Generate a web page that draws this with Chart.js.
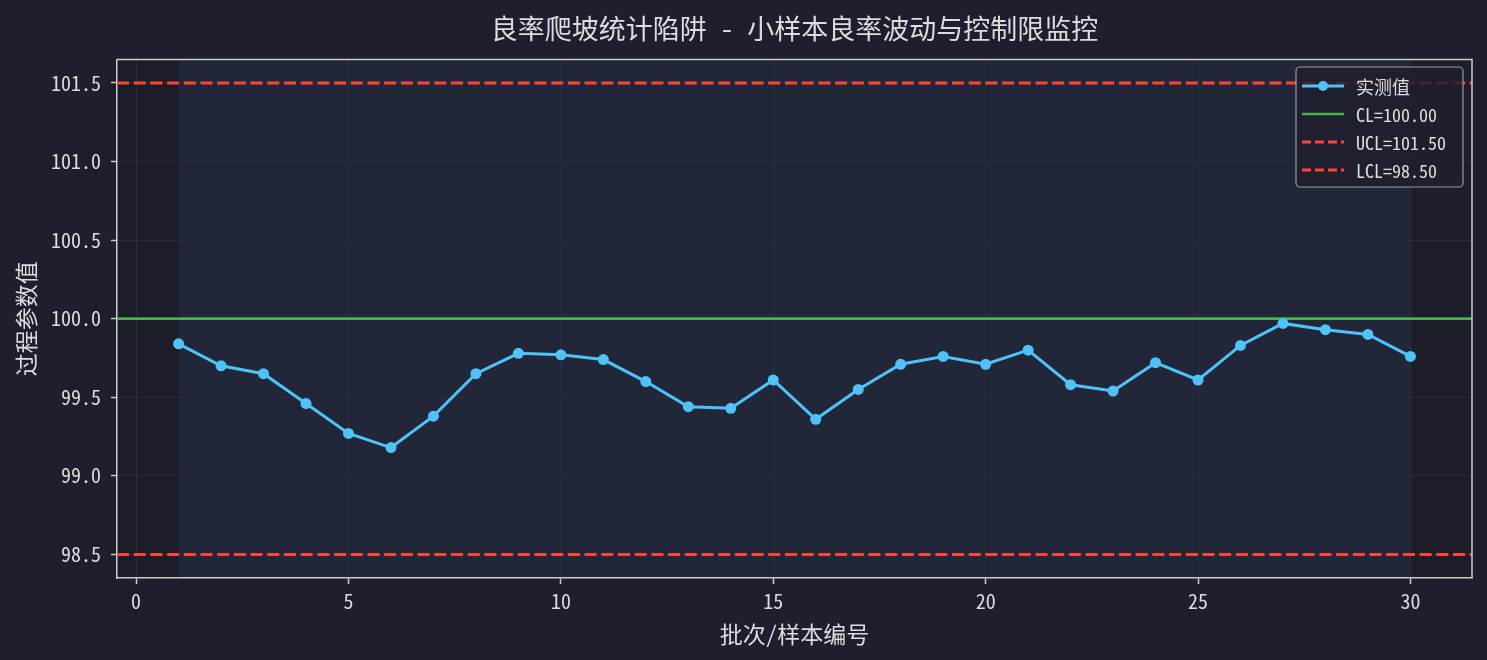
<!DOCTYPE html>
<html>
<head>
<meta charset="utf-8">
<script src="https://cdn.jsdelivr.net/npm/chart.js@4.4.0/dist/chart.umd.min.js"></script>
<style>
    html, body { margin: 0; padding: 0; background: #1f1e2e; }
    canvas { display: block; }
</style>
</head>
<body>
<canvas id="chart" width="1487" height="660"></canvas>
<script>
// ---- data ----
var batches = [1, 2, 3, 4, 5, 6, 7, 8, 9, 10, 11, 12, 13, 14, 15,
               16, 17, 18, 19, 20, 21, 22, 23, 24, 25, 26, 27, 28, 29, 30];
var measured = [99.84, 99.70, 99.65, 99.46, 99.27, 99.18, 99.38, 99.65, 99.78, 99.77,
                99.74, 99.60, 99.44, 99.43, 99.61, 99.36, 99.55, 99.71, 99.76, 99.71,
                99.80, 99.58, 99.54, 99.72, 99.61, 99.83, 99.97, 99.93, 99.90, 99.76];
var CL = 100.0;
var UCL = 101.5;
var LCL = 98.5;
var xTicks = [0, 5, 10, 15, 20, 25, 30];
var yTicks = [98.5, 99.0, 99.5, 100.0, 100.5, 101.0, 101.5];
var xLimits = [-0.45, 31.45];
var yLimits = [98.35, 101.65];
var spanRange = [1, 30];

var TITLE = '良率爬坡统计陷阱 - 小样本良率波动与控制限监控';
var X_LABEL = '批次/样本编号';
var Y_LABEL = '过程参数值';

var BLUE = '#4fc3f7', GREEN = '#4caf50', RED = '#ff4436';
var TEXT = '#dddddd', SPINE = '#cccccc', GRID = '#2c2c3c';
var DASH = [12, 4.7];
var FONT = "'Noto Sans Mono CJK SC', 'DejaVu Sans Mono', 'Noto Sans CJK SC', monospace";

Chart.defaults.font.family = FONT;
Chart.defaults.color = TEXT;

function hline(v) {
    return [{ x: xLimits[0], y: v }, { x: xLimits[1], y: v }];
}

var legendItems = [
    { label: '实测值', color: BLUE, dash: [], width: 3, marker: true },
    { label: 'CL=' + CL.toFixed(2), color: GREEN, dash: [], width: 2.5 },
    { label: 'UCL=' + UCL.toFixed(2), color: RED, dash: [9, 4], width: 3 },
    { label: 'LCL=' + LCL.toFixed(2), color: RED, dash: [9, 4], width: 3 }
];

// background, shaded span, top/right spines and the in-plot legend
var decoPlugin = {
    id: 'deco',
    beforeDraw: function (chart) {
        var a = chart.chartArea, ctx = chart.ctx, xs = chart.scales.x;
        ctx.save();
        ctx.fillStyle = '#1d1c29';
        ctx.fillRect(a.left, a.top, a.right - a.left, a.bottom - a.top);
        var x0 = xs.getPixelForValue(spanRange[0]), x1 = xs.getPixelForValue(spanRange[1]);
        ctx.fillStyle = '#212639';
        ctx.fillRect(x0, a.top, x1 - x0, a.bottom - a.top);
        ctx.restore();
    },
    afterDraw: function (chart) {
        var a = chart.chartArea, ctx = chart.ctx;
        ctx.save();
        ctx.strokeStyle = SPINE;
        ctx.lineWidth = 1.5;
        ctx.beginPath();
        ctx.moveTo(a.left, a.top); ctx.lineTo(a.right, a.top); ctx.lineTo(a.right, a.bottom);
        ctx.stroke();

        // legend box
        var bx = 1296, by = 67, bw = 167, bh = 120, r = 4;
        ctx.beginPath();
        ctx.moveTo(bx + r, by);
        ctx.arcTo(bx + bw, by, bx + bw, by + bh, r);
        ctx.arcTo(bx + bw, by + bh, bx, by + bh, r);
        ctx.arcTo(bx, by + bh, bx, by, r);
        ctx.arcTo(bx, by, bx + bw, by, r);
        ctx.closePath();
        ctx.fillStyle = 'rgba(31,30,46,0.85)';
        ctx.fill();
        ctx.strokeStyle = '#9a9aa4';
        ctx.lineWidth = 1.2;
        ctx.stroke();

        legendItems.forEach(function (it, i) {
            var y = by + 19 + i * 28;
            ctx.strokeStyle = it.color;
            ctx.lineWidth = it.width;
            ctx.setLineDash(it.dash);
            ctx.beginPath();
            ctx.moveTo(bx + 6, y); ctx.lineTo(bx + 48, y);
            ctx.stroke();
            ctx.setLineDash([]);
            if (it.marker) {
                ctx.fillStyle = it.color;
                ctx.beginPath();
                ctx.arc(bx + 27, y, 5, 0, Math.PI * 2);
                ctx.fill();
            }
            ctx.fillStyle = TEXT;
            ctx.font = '18px ' + FONT;
            ctx.textBaseline = 'middle';
            ctx.textAlign = 'left';
            ctx.fillText(it.label, bx + 60, y + 1);
        });
        ctx.restore();
    }
};

new Chart(document.getElementById('chart'), {
    type: 'line',
    data: {
        datasets: [
            {
                label: '实测值',
                data: batches.map(function (b, i) { return { x: b, y: measured[i] }; }),
                borderColor: BLUE, backgroundColor: BLUE,
                borderWidth: 3, pointRadius: 5.5, pointHoverRadius: 5.5,
                pointBorderWidth: 0, tension: 0, order: 0
            },
            {
                label: 'CL', data: hline(CL), borderColor: GREEN,
                borderWidth: 2.7, pointRadius: 0, order: 1
            },
            {
                label: 'UCL', data: hline(UCL), borderColor: RED,
                borderWidth: 3, borderDash: DASH, pointRadius: 0, order: 1
            },
            {
                label: 'LCL', data: hline(LCL), borderColor: RED,
                borderWidth: 3, borderDash: DASH, pointRadius: 0, order: 1
            }
        ]
    },
    options: {
        responsive: false,
        animation: false,
        devicePixelRatio: 1,
        layout: { padding: { left: 0, right: 15, top: 0, bottom: 0 } },
        plugins: {
            legend: { display: false },
            tooltip: { enabled: false },
            title: {
                display: true, text: TITLE, fullSize: false,
                color: TEXT, font: { size: 27, weight: 'normal' },
                padding: { top: 13, bottom: 14 }
            }
        },
        scales: {
            x: {
                type: 'linear', min: xLimits[0], max: xLimits[1],
                afterBuildTicks: function (s) { s.ticks = xTicks.map(function (v) { return { value: v }; }); },
                afterFit: function (s) { s.height = 82; },
                ticks: { color: TEXT, font: { size: 20 }, padding: 5, maxRotation: 0,
                    callback: function (v) { return String(v); } },
                grid: { color: GRID, lineWidth: 1, tickLength: 6, tickColor: SPINE, tickWidth: 1.5 },
                border: { color: SPINE, width: 1.5 },
                title: { display: true, text: X_LABEL, color: TEXT,
                    font: { size: 23 }, padding: { top: 0, bottom: 12 } }
            },
            y: {
                type: 'linear', min: yLimits[0], max: yLimits[1],
                afterBuildTicks: function (s) { s.ticks = yTicks.map(function (v) { return { value: v }; }); },
                afterFit: function (s) { s.width = 117; },
                ticks: { color: TEXT, font: { size: 20 }, padding: 10,
                    callback: function (v) { return v.toFixed(1); } },
                grid: { color: GRID, lineWidth: 1, tickLength: 6, tickColor: SPINE, tickWidth: 1.5 },
                border: { color: SPINE, width: 1.5 },
                title: { display: true, text: Y_LABEL, color: TEXT,
                    font: { size: 23 }, padding: { top: 12, bottom: 0 } }
            }
        }
    },
    plugins: [decoPlugin]
});
</script>
</body>
</html>
